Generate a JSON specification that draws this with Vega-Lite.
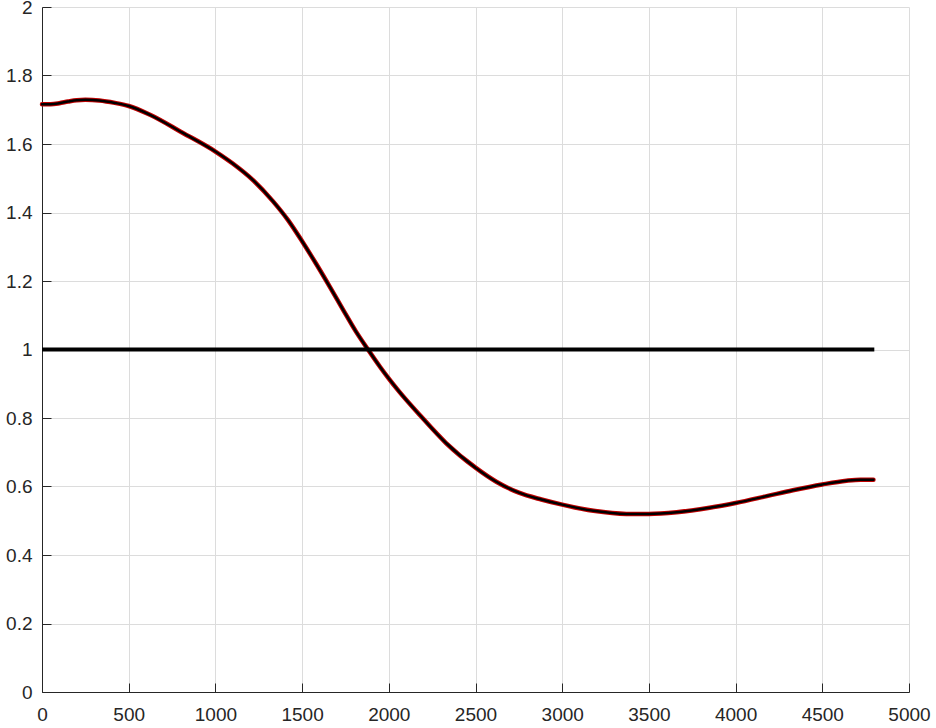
{
  "$schema": "https://vega.github.io/schema/vega-lite/v6.json",
  "width": 867,
  "height": 685,
  "autosize": {"type": "none"},
  "padding": {"left": 42, "top": 7, "right": 27, "bottom": 36},
  "background": "white",
  "config": {
    "view": {"stroke": null},
    "axis": {
      "labelFont": "Liberation Sans",
      "labelFontSize": 19,
      "labelColor": "#262626",
      "domainColor": "#262626",
      "domainWidth": 1,
      "tickColor": "#262626",
      "tickSize": -9,
      "tickWidth": 1,
      "gridColor": "#dcdcdc",
      "gridWidth": 1,
      "title": null
    }
  },
  "datasets": {
    "curve": [
      {"x": 0, "y": 1.716},
      {"x": 50, "y": 1.716},
      {"x": 100, "y": 1.719},
      {"x": 150, "y": 1.724},
      {"x": 200, "y": 1.728},
      {"x": 250, "y": 1.729},
      {"x": 330, "y": 1.727},
      {"x": 420, "y": 1.72},
      {"x": 500, "y": 1.711},
      {"x": 620, "y": 1.686},
      {"x": 810, "y": 1.633},
      {"x": 1000, "y": 1.578},
      {"x": 1100, "y": 1.543},
      {"x": 1220, "y": 1.493},
      {"x": 1330, "y": 1.434},
      {"x": 1420, "y": 1.377},
      {"x": 1500, "y": 1.316},
      {"x": 1580, "y": 1.251},
      {"x": 1660, "y": 1.183},
      {"x": 1740, "y": 1.113},
      {"x": 1810, "y": 1.053},
      {"x": 1880, "y": 1.0},
      {"x": 1950, "y": 0.949},
      {"x": 2000, "y": 0.915},
      {"x": 2060, "y": 0.877},
      {"x": 2180, "y": 0.808},
      {"x": 2330, "y": 0.727},
      {"x": 2500, "y": 0.655},
      {"x": 2620, "y": 0.614},
      {"x": 2750, "y": 0.582},
      {"x": 2880, "y": 0.562},
      {"x": 3000, "y": 0.547},
      {"x": 3180, "y": 0.529},
      {"x": 3370, "y": 0.52},
      {"x": 3500, "y": 0.52},
      {"x": 3660, "y": 0.525},
      {"x": 3850, "y": 0.538},
      {"x": 4000, "y": 0.552},
      {"x": 4180, "y": 0.572},
      {"x": 4330, "y": 0.589},
      {"x": 4500, "y": 0.606},
      {"x": 4640, "y": 0.617},
      {"x": 4720, "y": 0.62},
      {"x": 4795, "y": 0.62}
    ],
    "ref": [
      {"x": 0, "y": 1},
      {"x": 4800, "y": 1}
    ]
  },
  "encoding": {
    "x": {
      "field": "x", "type": "quantitative",
      "scale": {"domain": [0, 5000], "nice": false, "zero": false},
      "axis": {"values": [0, 500, 1000, 1500, 2000, 2500, 3000, 3500, 4000, 4500, 5000], "format": "d", "labelPadding": 22, "labelFlush": false, "labelOverlap": false}
    },
    "y": {
      "field": "y", "type": "quantitative",
      "scale": {"domain": [0, 2], "nice": false, "zero": false},
      "axis": {"values": [0, 0.2, 0.4, 0.6, 0.8, 1, 1.2, 1.4, 1.6, 1.8, 2], "format": "~g", "labelPadding": 19, "labelFlush": false, "labelOverlap": false}
    }
  },
  "layer": [
    {
      "data": {"name": "curve"},
      "mark": {"type": "line", "color": "#c00000", "strokeWidth": 4.5, "interpolate": "monotone", "strokeCap": "round"}
    },
    {
      "data": {"name": "curve"},
      "mark": {"type": "line", "color": "#000000", "strokeWidth": 2.5, "interpolate": "monotone", "strokeCap": "round"}
    },
    {
      "data": {"name": "ref"},
      "mark": {"type": "line", "color": "#000000", "strokeWidth": 4}
    }
  ]
}
